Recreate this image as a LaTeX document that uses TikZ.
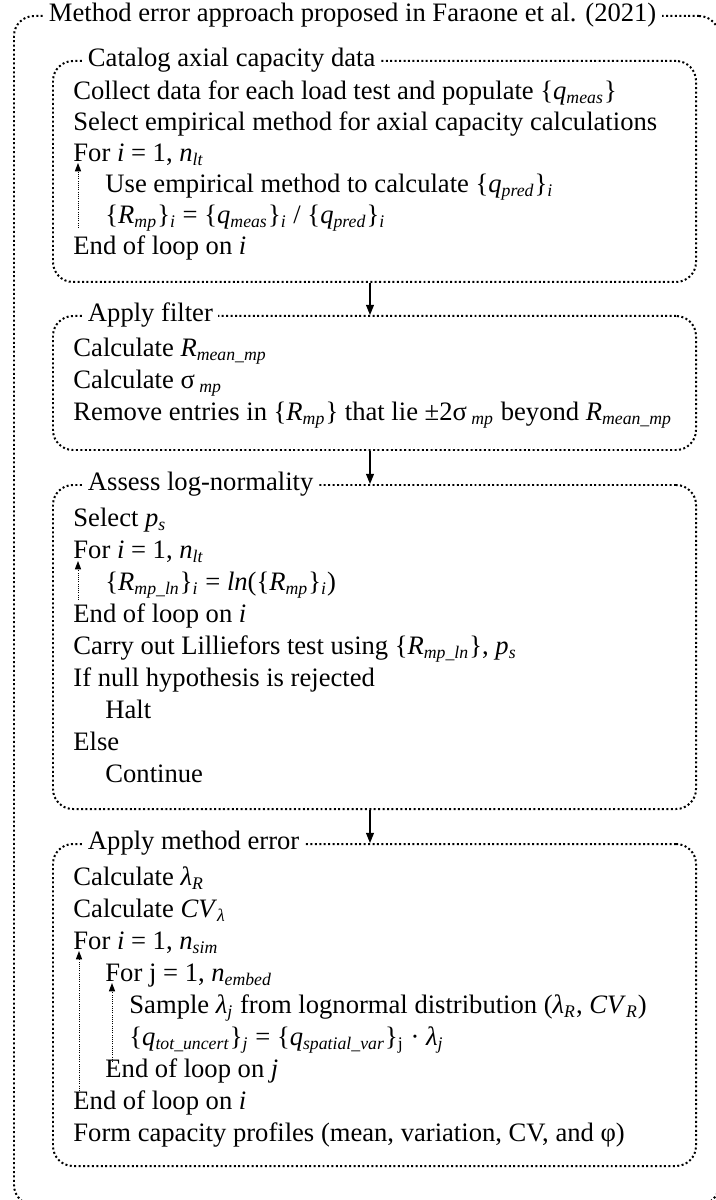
\documentclass[tikz,border=0pt]{standalone}
\usepackage{fontspec}
\setmainfont{Liberation Serif}
\usetikzlibrary{arrows.meta}
\newcommand\iv[1]{\textit{#1}}
\newcommand\sub[1]{\textsubscript{\textit{#1}}}
\begin{document}
\begin{tikzpicture}[x=0.451pt,y=-0.451pt,
	font=\fontsize{12}{14}\selectfont,
	frame/.style={draw,line width=0.9pt,dash pattern=on 0.9pt off 1.1pt,rounded corners=9pt,anchor=north west,inner sep=0pt},
	ttl/.style={fill=white,inner xsep=2.5pt,inner ysep=1pt,anchor=west},
	ln/.style={inner sep=0pt,anchor=west,text height=8pt,text depth=2.5pt},
	loopback/.style={line width=0.4pt,dash pattern=on 0.4pt off 0.6pt,-{Triangle[width=2.8pt,length=3.8pt]}},
	flow/.style={line width=0.5pt,-{Triangle[width=3.6pt,length=4.6pt]}}]
	\def\px{0.451pt}
	\def\xa{73}
	\def\xb{105}
	\def\xc{129}
	\clip (0,0) rectangle (716,1200);
	
	% frames
	\node[frame,minimum width=705*\px,minimum height=1189*\px] (outer) at (13,15) {};
	\node[frame,minimum width=643*\px,minimum height=221*\px] (catalog) at (52,60) {};
	\node[frame,minimum width=643*\px,minimum height=134*\px] (filter) at (52,315) {};
	\node[frame,minimum width=643*\px,minimum height=324*\px] (lognorm) at (52,484) {};
	\node[frame,minimum width=643*\px,minimum height=322*\px] (metherr) at (52,843) {};
	
	\node[ttl] (outert) at (43,15) {Method error approach proposed in Faraone et al. (2021)};
	\node[ttl] (catalogt) at (82,60) {Catalog axial capacity data};
	\node[ttl] (filtert) at (82,315) {Apply filter};
	\node[ttl] (lognormt) at (82,484) {Assess log-normality};
	\node[ttl] (metherrt) at (82,843) {Apply method error};
	
	% catalog
	\node[ln] (cat1) at (\xa,93) {Collect data for each load test and populate \{\iv{q}\sub{meas}\}};
	\node[ln] (cat2) at (\xa,124) {Select empirical method for axial capacity calculations};
	\node[ln] (cat3) at (\xa,155) {For \iv{i} = 1, \iv{n}\sub{lt}};
	\node[ln] (cat4) at (\xb,186) {Use empirical method to calculate \{\iv{q}\sub{pred}\}\sub{i}};
	\node[ln] (cat5) at (\xb,217) {\{\iv{R}\sub{mp}\}\sub{i} = \{\iv{q}\sub{meas}\}\sub{i} / \{\iv{q}\sub{pred}\}\sub{i}};
	\node[ln] (cat6) at (\xa,248) {End of loop on \iv{i}};
	
	% filter
	\node[ln] (fil1) at (\xa,350) {Calculate \iv{R}\sub{mean\_mp}};
	\node[ln] (fil2) at (\xa,382) {Calculate σ\,\sub{mp}};
	\node[ln] (fil3) at (\xa,414) {Remove entries in \{\iv{R}\sub{mp}\} that lie ±2σ\,\sub{mp} beyond \iv{R}\sub{mean\_mp}};
	
	% log-normality
	\node[ln] (log1) at (\xa,520) {Select \iv{p}\sub{s}};
	\node[ln] (log2) at (\xa,552) {For \iv{i} = 1, \iv{n}\sub{lt}};
	\node[ln] (log3) at (\xb,584) {\{\iv{R}\sub{mp\_ln}\}\sub{i} = \iv{ln}(\{\iv{R}\sub{mp}\}\sub{i})};
	\node[ln] (log4) at (\xa,616) {End of loop on \iv{i}};
	\node[ln] (log5) at (\xa,648) {Carry out Lilliefors test using \{\iv{R}\sub{mp\_ln}\}, \iv{p}\sub{s}};
	\node[ln] (log6) at (\xa,680) {If null hypothesis is rejected};
	\node[ln] (log7) at (\xb,712) {Halt};
	\node[ln] (log8) at (\xa,744) {Else};
	\node[ln] (log9) at (\xb,776) {Continue};
	
	% method error
	\node[ln] (err1) at (\xa,879) {Calculate \iv{λ}\sub{R}};
	\node[ln] (err2) at (\xa,911) {Calculate \iv{CV}\sub{λ}};
	\node[ln] (err3) at (\xa,943) {For \iv{i} = 1, \iv{n}\sub{sim}};
	\node[ln] (err4) at (\xb,975) {For j = 1, \iv{n}\sub{embed}};
	\node[ln] (err5) at (\xc,1007) {Sample \iv{λ}\sub{j} from lognormal distribution (\iv{λ}\sub{R}, \iv{CV}\sub{R})};
	\node[ln] (err6) at (\xc,1039) {\{\iv{q}\sub{tot\_uncert}\}\sub{j} = \{\iv{q}\sub{spatial\_var}\}\textsubscript{j} · \iv{λ}\sub{j}};
	\node[ln] (err7) at (\xb,1071) {End of loop on \iv{j}};
	\node[ln] (err8) at (\xa,1103) {End of loop on \iv{i}};
	\node[ln] (err9) at (\xa,1135) {Form capacity profiles (mean, variation, CV, and φ)};
	
	% flow between boxes
	\coordinate (ax) at (370,0);
	\draw[flow] (catalog.south -| ax) -- (filter.north -| ax);
	\draw[flow] (filter.south -| ax) -- (lognorm.north -| ax);
	\draw[flow] (lognorm.south -| ax) -- (metherr.north -| ax);
	
	% loops
	\coordinate (catlb) at (78,228);
	\coordinate (catlt) at (78,163);
	\coordinate (loglb) at (78,600);
	\coordinate (loglt) at (78,561);
	\coordinate (erilb) at (79,1091);
	\coordinate (erilt) at (79,951);
	\coordinate (erjlb) at (112,1062);
	\coordinate (erjlt) at (112,983);
	\draw[loopback] (catlb) -- (catlt);
	\draw[loopback] (loglb) -- (loglt);
	\draw[loopback] (erilb) -- (erilt);
	\draw[loopback] (erjlb) -- (erjlt);
\end{tikzpicture}
\end{document}
